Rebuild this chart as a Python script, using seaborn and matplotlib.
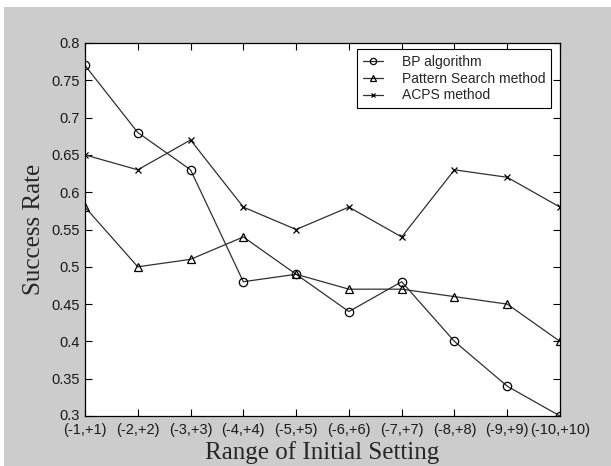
import matplotlib
matplotlib.use("Agg")
import matplotlib.pyplot as plt
import matplotlib.transforms as mtransforms
import seaborn as sns
import pandas as pd
from matplotlib.patches import Rectangle

categories = ["(-1,+1)", "(-2,+2)", "(-3,+3)", "(-4,+4)", "(-5,+5)",
              "(-6,+6)", "(-7,+7)", "(-8,+8)", "(-9,+9)", "(-10,+10)"]
bp_values = [0.77, 0.68, 0.63, 0.48, 0.49, 0.44, 0.48, 0.40, 0.34, 0.30]
ps_values = [0.58, 0.50, 0.51, 0.54, 0.49, 0.47, 0.47, 0.46, 0.45, 0.40]
acps_values = [0.65, 0.63, 0.67, 0.58, 0.55, 0.58, 0.54, 0.63, 0.62, 0.58]
series_names = ["BP algorithm", "Pattern Search method", "ACPS method"]
y_ticks = [0.3, 0.35, 0.4, 0.45, 0.5, 0.55, 0.6, 0.65, 0.7, 0.75, 0.8]

sns.set_style("white")
plt.rcParams["font.family"] = ["Liberation Sans", "DejaVu Sans"]

W, H = 611, 466
fig = plt.figure(figsize=(W / 100, H / 100), dpi=100, facecolor="white")
fig.patches.append(Rectangle((4 / W, 0), 1, 1 - 7 / H, transform=fig.transFigure,
                             facecolor="#cccccc", edgecolor="none", zorder=-10))
ax = fig.add_axes([85 / W, 1 - 416 / H, (560 - 85) / W, (416 - 43) / H])
ax.set_facecolor("white")

marker_map = {"BP algorithm": ("o", 6), "Pattern Search method": ("^", 6), "ACPS method": ("x", 4.5)}
for name, vals in zip(series_names, [bp_values, ps_values, acps_values]):
    d = pd.DataFrame({"x": range(len(vals)), "y": vals})
    m, ms = marker_map[name]
    sns.lineplot(data=d, x="x", y="y", ax=ax, label=name, color="#303030",
                 marker=m, markersize=ms, markerfacecolor="none",
                 markeredgecolor="black", markeredgewidth=0.9, linewidth=0.9)

ax.set_xlim(0, 9)
ax.set_ylim(0.3, 0.8)
ax.set_xticks(range(len(categories)))
ax.set_xticklabels(categories)
ax.set_yticks(y_ticks)
ax.set_yticklabels([f"{t:g}" for t in y_ticks])
ax.tick_params(direction="in", length=5, width=0.8, color="black",
               labelsize=10.5, labelcolor="#1a1a1a",
               top=True, right=True, bottom=True, left=True)
ax.tick_params(axis="x", pad=5)
ax.tick_params(axis="y", pad=4)
for s in ax.spines.values():
    s.set_visible(True)
    s.set_color("black")
    s.set_linewidth(0.9)
# nudge the lowest y label up a little so it does not touch the first x label
lab0 = ax.get_yticklabels()[0]
lab0.set_transform(lab0.get_transform() + mtransforms.ScaledTranslation(0, 2 / 100, fig.dpi_scale_trans))

ax.set_xlabel("Range of Initial Setting", fontsize=18, family="Liberation Serif", labelpad=3)
ax.set_ylabel("Success Rate", fontsize=18, family="Liberation Serif", labelpad=4)

leg = ax.legend(loc="upper right", bbox_to_anchor=(0.982, 0.983), frameon=True,
                fancybox=False, fontsize=10, handlelength=1.45, handletextpad=1.4,
                borderpad=0.4, labelspacing=0.2, borderaxespad=0, markerscale=0.75)
leg.get_frame().set_edgecolor("black")
leg.get_frame().set_linewidth(0.8)
leg.get_frame().set_alpha(1)

fig.savefig("out.png", dpi=100, facecolor=fig.get_facecolor())
